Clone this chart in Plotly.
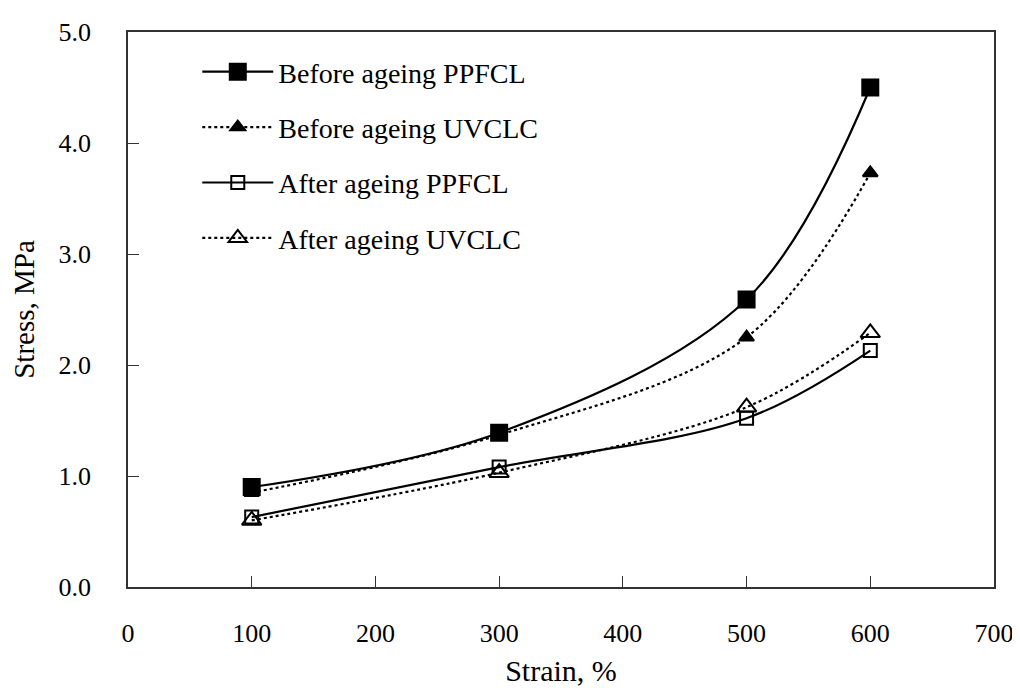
import plotly.graph_objects as go

strain = [100, 300, 500, 600]
before_ppfcl = [0.90, 1.39, 2.59, 4.50]
before_uvclc = [0.85, 1.37, 2.25, 3.73]
after_ppfcl = [0.63, 1.08, 1.52, 2.13]
after_uvclc = [0.60, 1.03, 1.62, 2.29]

names = ["Before ageing PPFCL", "Before ageing UVCLC", "After ageing PPFCL", "After ageing UVCLC"]
series = [before_ppfcl, before_uvclc, after_ppfcl, after_uvclc]
dashes = ["solid", "dot", "solid", "dot"]
symbols = ["square", "triangle-up", "square-open", "triangle-up-open"]
sizes = [16, 13, 13, 17]

FONT = "Liberation Serif"
fig = go.Figure()
for i, (n, s) in enumerate(zip(names, series)):
    fig.add_trace(go.Scatter(
        x=strain, y=s, name=n, mode="lines+markers",
        line=dict(color="black", width=2.2, dash=dashes[i], shape="spline", smoothing=1.0),
        marker=dict(symbol=symbols[i], size=sizes[i], color="black",
                    line=dict(color="black", width=2)),
        legendgroup=f"g{i}",
    ))

fig.update_layout(
    width=1012, height=685,
    margin=dict(l=120, r=26, t=24, b=106),
    paper_bgcolor="white", plot_bgcolor="white",
    font=dict(family=FONT, size=26, color="black"),
    showlegend=True,
    legend=dict(x=0.08, y=0.973, xanchor="left", yanchor="top", itemwidth=71,
                bgcolor="rgba(0,0,0,0)", traceorder="grouped", tracegroupgap=16,
                font=dict(family=FONT, size=28, color="black")),
    xaxis=dict(range=[0, 700], tickvals=[0, 100, 200, 300, 400, 500, 600, 700],
               ticks="inside", ticklen=11, tickwidth=1, tickcolor="#333",
               showline=True, linecolor="#333", linewidth=1.5, mirror=True,
               showgrid=False, zeroline=False, ticklabelstandoff=22,
               tickfont=dict(size=26), automargin=False,
               title=dict(text="Strain, %", standoff=13, font=dict(size=30))),
    yaxis=dict(range=[0, 5], tickvals=[0, 1, 2, 3, 4, 5], tickformat=".1f",
               ticks="inside", ticklen=11, tickwidth=1, tickcolor="#333",
               showline=True, linecolor="#333", linewidth=1.5, mirror=True,
               showgrid=False, zeroline=False, ticklabelstandoff=30,
               tickfont=dict(size=26), automargin=False,
               title=dict(text="Stress, MPa", standoff=30, font=dict(size=29))),
)

fig.write_html("out.html")
